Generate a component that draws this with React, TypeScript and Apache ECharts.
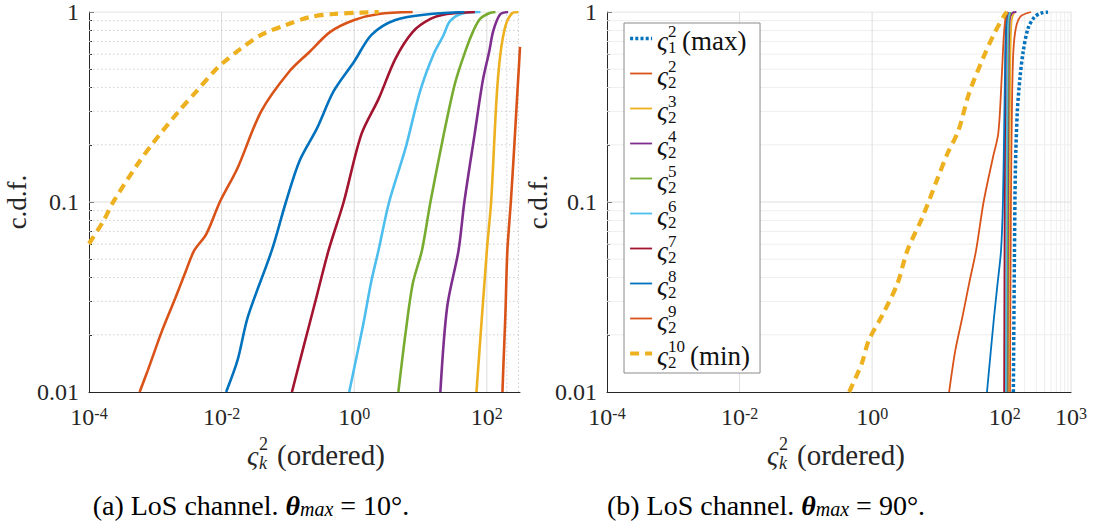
import React, { useEffect, useRef } from 'react';
import * as echarts from 'echarts';

const FONT = 'Liberation Serif';
const INK = '#262626';
const N = { fontStyle: 'normal', fontWeight: 'normal', fontFamily: FONT };

// ---- series identity ----
const SERIES_NAMES = ['ς₁² (max)', 'ς₂²', 'ς₂³', 'ς₂⁴', 'ς₂⁵', 'ς₂⁶', 'ς₂⁷', 'ς₂⁸', 'ς₂⁹', 'ς₂¹⁰ (min)'];
const SUP = ['2', '2', '3', '4', '5', '6', '7', '8', '9', '10'];
const SUB = ['1', '2', '2', '2', '2', '2', '2', '2', '2', '2'];
const SUFFIX = ['(max)', '', '', '', '', '', '', '', '', '(min)'];
const COLORS = ['#0072BD', '#D95319', '#EDB120', '#7E2F8E', '#77AC30', '#4DBEEE', '#A2142F', '#0072BD', '#D95319', '#EDB120'];

// ---- (a) theta_max = 10 deg : [eigenvalue, cdf] ----
const L_MAX = [[420, 0.01], [500, 0.1], [600, 0.5], [900, 1]];
const L_K2 = [[172, 0.01], [178, 0.014], [190, 0.025], [204, 0.0556], [230, 0.1], [260, 0.2], [285, 0.35], [305, 0.52], [316.2, 0.655]];
const L_K3 = [[69.7, 0.01], [100, 0.0556], [116, 0.1], [140, 0.35], [160, 0.6], [192, 0.85], [240, 0.985], [300, 1]];
const L_K4 = [[19.9, 0.01], [25.2, 0.028], [37.4, 0.0556], [45.8, 0.1], [65.6, 0.229], [86.7, 0.434], [109, 0.624], [125, 0.795], [158, 0.97], [209, 1]];
const L_K5 = [[4.63, 0.01], [5.94, 0.0204], [7.64, 0.0372], [10.5, 0.0556], [14.1, 0.1], [22.4, 0.227], [33, 0.42], [48, 0.63], [63, 0.8], [79, 0.92], [108, 0.985], [135, 1]];
const L_K6 = [[0.84, 0.01], [1.34, 0.0219], [1.82, 0.0386], [2.32, 0.0556], [3.36, 0.1], [5.94, 0.192], [9.8, 0.381], [15.6, 0.596], [22, 0.75], [28, 0.897], [44, 0.985], [80, 1]];
const L_K7 = [[0.115, 0.01], [0.167, 0.0166], [0.255, 0.0293], [0.41, 0.0556], [0.693, 0.1], [1.28, 0.227], [2.34, 0.35], [4.17, 0.567], [7.64, 0.786], [14.1, 0.919], [25, 0.976], [66, 1]];
const L_K8 = [[0.0117, 0.01], [0.0174, 0.0147], [0.0248, 0.0248], [0.0571, 0.0556], [0.0933, 0.1], [0.149, 0.164], [0.274, 0.244], [0.485, 0.381], [0.993, 0.547], [1.82, 0.758], [4.17, 0.908], [14.1, 0.976], [45.8, 1]];
const L_K9 = [[5.8e-4, 0.01], [7.7e-4, 0.013], [1.27e-3, 0.0211], [2.02e-3, 0.0314], [2.9e-3, 0.0435], [3.85e-3, 0.0554], [5.9e-3, 0.068], [9.4e-3, 0.1], [0.0174, 0.151], [0.0395, 0.3], [0.104, 0.485], [0.213, 0.618], [0.435, 0.786], [1.0, 0.908], [2.34, 0.976], [7.6, 1]];
const L_K10 = [[1e-4, 0.0603], [1.65e-4, 0.0795], [2.36e-4, 0.101], [5.4e-4, 0.158], [8.9e-4, 0.201], [2.25e-3, 0.3], [4.14e-3, 0.381], [7.6e-3, 0.485], [0.0101, 0.534], [0.0193, 0.64], [0.0395, 0.758], [0.0933, 0.855], [0.213, 0.94], [0.485, 0.976], [1.28, 0.992], [2.34, 1]];

// ---- (b) theta_max = 90 deg ----
const R_MAX = [[135, 0.01], [140, 0.05], [145, 0.15], [155, 0.3], [170, 0.45], [190, 0.62], [225, 0.82], [280, 0.94], [350, 0.985], [450, 1]];
const R_K2 = [[120, 0.01], [124, 0.1], [129, 0.34], [135, 0.62], [148, 0.83], [175, 0.95], [250, 1]];
const R_K3 = [[114, 0.01], [117, 0.1], [121, 0.5], [127, 0.9], [140, 1]];
const R_K4 = [[110, 0.01], [112, 0.1], [115, 0.5], [119, 0.9], [130, 0.99], [150, 1]];
const R_K5 = [[107, 0.01], [109, 0.1], [112, 0.5], [115, 0.9], [122, 1]];
const R_K6 = [[104, 0.01], [106, 0.1], [109, 0.5], [112, 0.9], [118, 1]];
const R_K7 = [[98, 0.01], [100, 0.1], [103, 0.5], [106, 0.9], [112, 1]];
const R_K8 = [[54, 0.01], [69, 0.0248], [78, 0.0372], [88, 0.0556], [94, 0.1], [99, 0.3], [103, 0.7], [107, 0.95], [112, 1]];
const R_K9 = [[14.5, 0.01], [18, 0.0166], [23, 0.0248], [29, 0.0372], [37, 0.0556], [48, 0.1], [66, 0.17], [80, 0.23], [90, 0.45], [97, 0.75], [104, 0.95], [112, 1]];
const R_K10 = [[0.45, 0.01], [0.695, 0.0141], [0.89, 0.0187], [1.47, 0.0259], [2.41, 0.0372], [3.4, 0.0556], [5.75, 0.0832], [9.46, 0.13], [13.7, 0.18], [20, 0.237], [28.8, 0.371], [47.5, 0.575], [69, 0.766], [100, 0.97], [108, 1]];

const LEFT_DATA = [L_MAX, L_K2, L_K3, L_K4, L_K5, L_K6, L_K7, L_K8, L_K9, L_K10];
const RIGHT_DATA = [R_MAX, R_K2, R_K3, R_K4, R_K5, R_K6, R_K7, R_K8, R_K9, R_K10];

// ---- axes ----
const X_MIN = 1e-4;
const X_MAX_LEFT = 316.2278;
const X_MAX_RIGHT = 1000;
const Y_MIN = 0.01;
const Y_MAX = 1;
const X_LABEL_EXP_LEFT = [-4, -2, 0, 2];
const X_LABEL_EXP_RIGHT = [-4, -2, 0, 2, 3];
const Y_TICK_LABELS: Record<string, string> = { '-2': '0.01', '-1': '0.1', '0': '1' };

// grid lines
const LEFT_X_MAJOR = [0.01, 1, 100];
const LEFT_X_MINOR = [200, 300];
const RIGHT_X_MAJOR = [0.01, 1, 100, 1000];
const RIGHT_X_MINOR = [200, 300, 400, 500, 600, 700, 800, 900];
const Y_MAJOR = [0.1, 1];
const Y_MINOR = [0.02, 0.03, 0.04, 0.05, 0.06, 0.07, 0.08, 0.09, 0.2, 0.3, 0.4, 0.5, 0.6, 0.7, 0.8, 0.9];

function lineStyleFor(i: number, panel: number) {
  if (i === 0) return { color: COLORS[i], width: 3.5, type: [3, 2.2] as any, cap: 'butt' };
  if (i === 9) return { color: COLORS[i], width: 4.2, type: [9, 6] as any, cap: 'butt' };
  return { color: COLORS[i], width: panel === 0 ? 2.6 : 1.8, type: 'solid' };
}

function dataSeries(panel: number, sets: number[][][]) {
  return sets.map((d, i) => ({
    type: 'line',
    name: SERIES_NAMES[i],
    xAxisIndex: panel,
    yAxisIndex: panel,
    data: d,
    showSymbol: false,
    symbol: 'none',
    smooth: 0.3,
    clip: true,
    silent: true,
    z: 3,
    lineStyle: lineStyleFor(i, panel),
    itemStyle: { color: COLORS[i] },
  }));
}

function gridSeries(panel: number, xs: number[], ys: number[], xMax: number, style: any) {
  const out: any[] = [];
  xs.forEach((v) => {
    out.push({
      type: 'line', xAxisIndex: panel, yAxisIndex: panel, silent: true, z: 1,
      showSymbol: false, symbol: 'none', clip: true,
      data: [[v, Y_MIN], [v, Y_MAX]], lineStyle: style, tooltip: { show: false },
    });
  });
  ys.forEach((v) => {
    out.push({
      type: 'line', xAxisIndex: panel, yAxisIndex: panel, silent: true, z: 1,
      showSymbol: false, symbol: 'none', clip: true,
      data: [[X_MIN, v], [xMax, v]], lineStyle: style, tooltip: { show: false },
    });
  });
  return out;
}

const MAJOR_L = { color: '#dcdcdc', width: 1, type: 'solid' };
const MINOR_L = { color: '#cfcfcf', width: 1, type: [1.5, 2.5] };
const MAJOR_R = { color: '#dedede', width: 1, type: 'solid' };
const MINOR_R = { color: '#eeeeee', width: 1, type: 'solid' };

function xAxisFor(panel: number) {
  const exps = panel === 0 ? X_LABEL_EXP_LEFT : X_LABEL_EXP_RIGHT;
  return {
    type: 'log', gridIndex: panel, logBase: 10,
    min: X_MIN, max: panel === 0 ? X_MAX_LEFT : X_MAX_RIGHT,
    splitLine: { show: false },
    axisLine: { show: true, lineStyle: { color: INK, width: 1 } },
    axisTick: { show: false },
    axisLabel: {
      ...N,
      margin: 13,
      color: INK,
      fontSize: 24,
      showMaxLabel: true,
      showMinLabel: true,
      formatter: (v: number) => {
        const l = Math.log10(v);
        const e = Math.round(l);
        if (Math.abs(l - e) > 1e-6 || exps.indexOf(e) < 0) return '';
        return `{b|10}{e|${e}}`;
      },
      rich: {
        b: { ...N, fontSize: 24, color: INK, lineHeight: 24 },
        e: { ...N, fontSize: 16, color: INK, lineHeight: 12, verticalAlign: 'top' },
      },
    },
  };
}

function yAxisFor(panel: number) {
  return {
    type: 'log', gridIndex: panel, logBase: 10, min: Y_MIN, max: Y_MAX,
    splitLine: { show: false },
    axisLine: { show: true, lineStyle: { color: INK, width: 1 } },
    axisTick: { show: true, inside: true, length: 5, lineStyle: { color: INK } },
    minorTick: { show: true, splitNumber: 9, length: 3, lineStyle: { color: INK } },
    axisLabel: {
      ...N,
      margin: 10, color: INK, fontSize: 24,
      formatter: (v: number) => Y_TICK_LABELS[String(Math.round(Math.log10(v)))] ?? '',
    },
    name: 'c.d.f.',
    nameLocation: 'middle',
    nameGap: panel === 0 ? 59 : 46,
    nameTextStyle: { ...N, fontSize: 27, color: INK },
  };
}

function xTitle(x: number, y: number) {
  const base = { fill: INK, fontFamily: FONT, fontWeight: 'normal', verticalAlign: 'middle', textVerticalAlign: 'middle', align: 'left', textAlign: 'left' };
  return {
    type: 'group', x, y, silent: true,
    children: [
      { type: 'text', x: 0, y: 0, style: { ...base, text: 'ς', fontSize: 28, fontStyle: 'italic' } },
      { type: 'text', x: 12, y: -11, style: { ...base, text: '2', fontSize: 18, fontStyle: 'normal' } },
      { type: 'text', x: 12, y: 8, style: { ...base, text: 'k', fontSize: 18, fontStyle: 'italic' } },
      { type: 'text', x: 30, y: 0, style: { ...base, text: '(ordered)', fontSize: 29, fontStyle: 'normal' } },
    ],
  };
}

function caption(x: number, y: number, tag: string, deg: string) {
  return {
    type: 'text', x, y, silent: true,
    style: {
      text: `{n|${tag} LoS channel. }{th|θ}{m|max}{n| = ${deg}°.}`,
      align: 'center', textAlign: 'center', verticalAlign: 'middle', textVerticalAlign: 'middle',
      fill: '#000',
      fontFamily: FONT, fontSize: 28, fontStyle: 'normal', fontWeight: 'normal',
      rich: {
        n: { ...N, fontSize: 28, lineHeight: 28, fill: '#000' },
        th: { fontFamily: FONT, fontSize: 28, lineHeight: 28, fontStyle: 'italic', fontWeight: 'bold', fill: '#000' },
        m: { fontFamily: FONT, fontSize: 20, lineHeight: 15, fontStyle: 'italic', fontWeight: 'normal', verticalAlign: 'bottom', fill: '#000' },
      },
    },
  };
}

function legendText(name: string) {
  const i = SERIES_NAMES.indexOf(name);
  if (i < 0) return name;
  const gap = SUP[i].length > 1 ? 'gw' : 'gn';
  const l1 = `{g| }{sp|${SUP[i]}}`;
  const l2 = SUFFIX[i] ? `{s|ς}{${gap}| }{t|${SUFFIX[i]}}` : `{s|ς}`;
  const l3 = `{g| }{sb|${SUB[i]}}`;
  return `${l1}\n${l2}\n${l3}`;
}

export default function App() {
  const ref = useRef<HTMLDivElement>(null);
  useEffect(() => {
    document.body.style.margin = '0';
    if (!ref.current) return;
    const chart = echarts.init(ref.current, undefined, { renderer: 'svg' });
    const option: any = {
      animation: false,
      backgroundColor: '#fff',
      textStyle: { ...N },
      grid: [
        { left: 89, top: 11, width: 431, height: 381 },
        { left: 607, top: 11, width: 464, height: 381 },
      ],
      xAxis: [xAxisFor(0), xAxisFor(1)],
      yAxis: [yAxisFor(0), yAxisFor(1)],
      legend: {
        orient: 'vertical',
        left: 624,
        top: 23,
        itemWidth: 22,
        itemHeight: 14,
        itemGap: 2,
        padding: [0, 10, 2, 4],
        backgroundColor: '#fff',
        borderColor: '#8a8a8a',
        borderWidth: 1,
        selectedMode: false,
        data: SERIES_NAMES.map((n, i) => ({ name: n, lineStyle: lineStyleFor(i, 1), itemStyle: { color: COLORS[i], opacity: 0 } })),
        formatter: legendText,
        textStyle: {
          ...N,
          color: '#111',
          rich: {
            g: { ...N, width: 11, lineHeight: 1, fontSize: 10 },
            gn: { ...N, width: 14, lineHeight: 1, fontSize: 10 },
            gw: { ...N, width: 22, lineHeight: 1, fontSize: 10 },
            sp: { ...N, fontSize: 17, lineHeight: 12, color: '#111' },
            s: { ...N, fontSize: 27, fontStyle: 'italic', lineHeight: 6, color: '#111' },
            t: { ...N, fontSize: 27, lineHeight: 6, color: '#111' },
            sb: { ...N, fontSize: 17, lineHeight: 8, color: '#111' },
          },
        },
      },
      graphic: [xTitle(247, 455), xTitle(767, 455), caption(251, 505, '(a)', '10'), caption(766, 505, '(b)', '90')],
      series: [
        ...gridSeries(0, LEFT_X_MAJOR, Y_MAJOR, X_MAX_LEFT, MAJOR_L),
        ...gridSeries(0, LEFT_X_MINOR, Y_MINOR, X_MAX_LEFT, MINOR_L),
        ...gridSeries(1, RIGHT_X_MINOR, Y_MINOR, X_MAX_RIGHT, MINOR_R),
        ...gridSeries(1, RIGHT_X_MAJOR, Y_MAJOR, X_MAX_RIGHT, MAJOR_R),
        ...dataSeries(1, RIGHT_DATA),
        ...dataSeries(0, LEFT_DATA),
      ],
    };
    chart.setOption(option);
    return () => chart.dispose();
  }, []);
  return <div ref={ref} style={{ width: 1103, height: 524 }} />;
}
